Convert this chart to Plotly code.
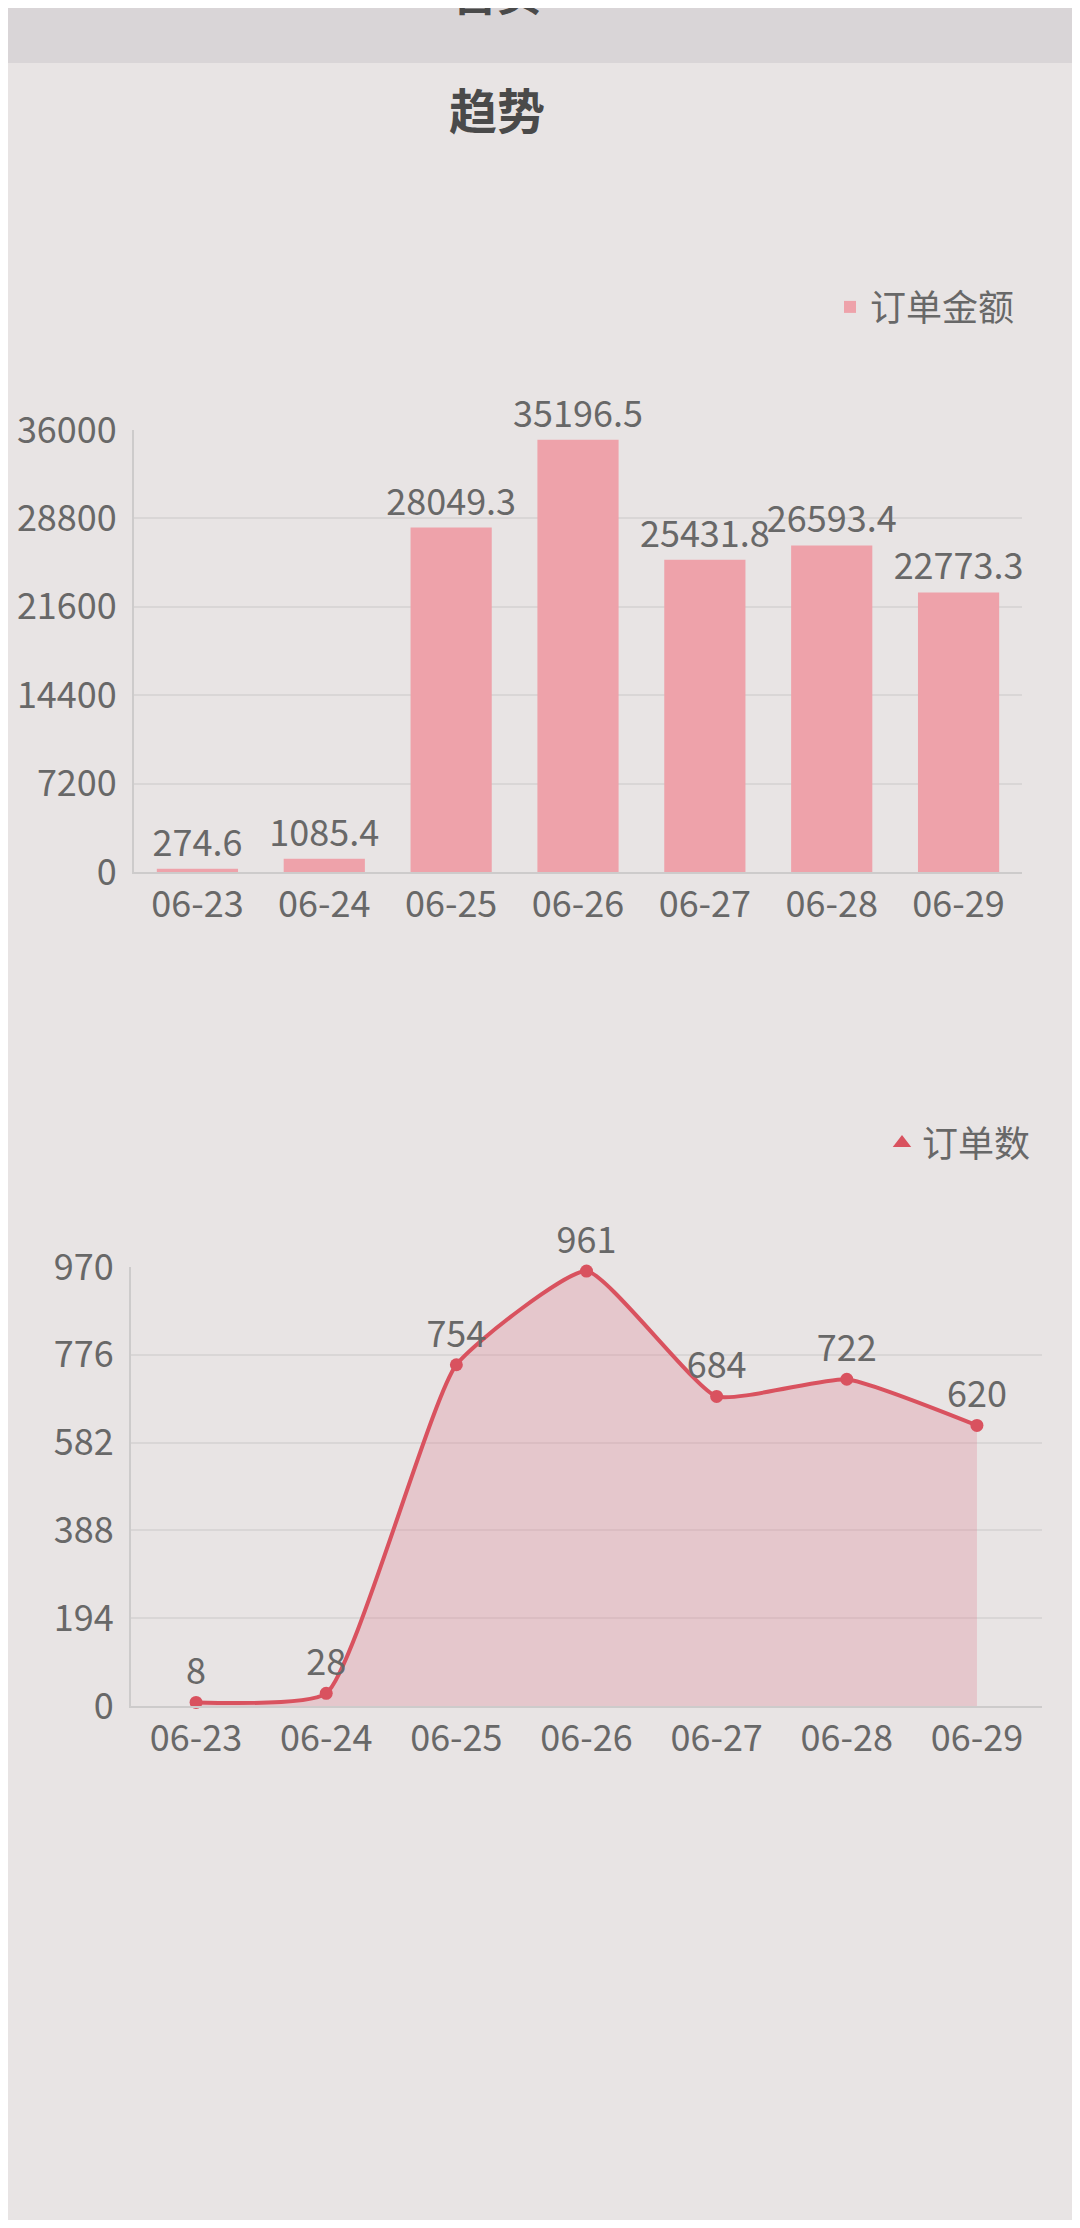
import plotly.graph_objects as go

# ---- data ----
dates = ["06-23", "06-24", "06-25", "06-26", "06-27", "06-28", "06-29"]
amounts = [274.6, 1085.4, 28049.3, 35196.5, 25431.8, 26593.4, 22773.3]
orders = [8, 28, 754, 961, 684, 722, 620]
amount_ticks = [0, 7200, 14400, 21600, 28800, 36000]
order_ticks = [0, 194, 388, 582, 776, 970]

# page body has an 8px margin, so the figure is sized to fit inside the window
OFF = 8
W, H = 1080 - 2 * OFF, 2228 - 2 * OFF
CJK = "Noto Sans CJK SC"
TXT = "#686868"
BAR = "#eea2aa"
LINE = "#d9525f"
NUMSIZE = 36


def px_x(p):
    return (p - OFF) / W


def px_y(p):
    return 1 - (p - OFF) / H


fig = go.Figure()

fig.add_trace(go.Bar(
    x=dates, y=amounts, name="订单金额",
    marker=dict(color=BAR, line=dict(width=0)),
    text=[str(v) for v in amounts], textposition="outside",
    constraintext="none",
    textfont=dict(size=NUMSIZE, color=TXT, family=CJK),
    cliponaxis=False, xaxis="x", yaxis="y", legend="legend",
))

fig.add_trace(go.Scatter(
    x=dates, y=orders, name="订单数", mode="lines+markers+text",
    line=dict(color=LINE, width=4, shape="spline", smoothing=0.45),
    marker=dict(color=LINE, size=13),
    fill="tozeroy", fillcolor="rgba(226,140,155,0.33)",
    text=[str(v) for v in orders], textposition="top center",
    textfont=dict(size=NUMSIZE, color=TXT, family=CJK),
    cliponaxis=False, xaxis="x2", yaxis="y2", showlegend=False,
))

# legend entry for the line chart (triangle symbol)
fig.add_trace(go.Scatter(
    x=[None], y=[None], name="订单数", mode="markers",
    marker=dict(color=LINE, symbol="triangle-up", size=16),
    xaxis="x2", yaxis="y2", legend="legend2", showlegend=True,
))

axis_common = dict(
    showline=True, linecolor="#cdcbcb", linewidth=2, ticks="",
    tickfont=dict(size=NUMSIZE, color=TXT, family=CJK), zeroline=False,
    automargin=False,
)

fig.update_layout(
    template="none",
    width=W, height=H, autosize=False,
    margin=dict(l=0, r=0, t=0, b=0, pad=0, autoexpand=False),
    paper_bgcolor="#e8e4e4", plot_bgcolor="rgba(0,0,0,0)",
    font=dict(family=CJK, color=TXT),
    bargap=0.36,
    xaxis=dict(domain=[px_x(134), px_x(1022)], anchor="y", type="category",
               range=[-0.5, len(dates) - 0.5], showgrid=False, **axis_common),
    yaxis=dict(domain=[px_y(872), px_y(430)], anchor="x", range=[0, 36000],
               tickvals=amount_ticks, ticktext=[str(t) for t in amount_ticks],
               showgrid=True, gridcolor="#d9d6d6",
               gridwidth=2, ticklabelstandoff=8, **axis_common),
    xaxis2=dict(domain=[px_x(131), px_x(1042)], anchor="y2", type="category",
                range=[-0.5, len(dates) - 0.5], showgrid=False, **axis_common),
    yaxis2=dict(domain=[px_y(1706), px_y(1267)], anchor="x2", range=[0, 970],
                tickvals=order_ticks, ticktext=[str(t) for t in order_ticks],
                showgrid=True, gridcolor="#d9d6d6",
                gridwidth=2, ticklabelstandoff=8, **axis_common),
    legend=dict(x=px_x(1020), y=px_y(307), xanchor="right", yanchor="middle",
                bgcolor="rgba(0,0,0,0)", font=dict(size=36, color=TXT, family=CJK)),
    legend2=dict(x=px_x(1036), y=px_y(1143), xanchor="right", yanchor="middle",
                 bgcolor="rgba(0,0,0,0)", font=dict(size=36, color=TXT, family=CJK)),
    shapes=[dict(type="rect", xref="paper", yref="paper", x0=0, x1=1,
                 y0=px_y(63), y1=1, fillcolor="#d9d5d7", line=dict(width=0),
                 layer="below")],
    annotations=[
        dict(text="<b>趋势</b>", x=px_x(497), y=px_y(108), xref="paper", yref="paper",
             showarrow=False, xanchor="center", yanchor="middle",
             font=dict(size=48, color="#4a4a4a", family=CJK)),
        dict(text="<b>首页</b>", x=px_x(497), y=px_y(26), xref="paper", yref="paper",
             showarrow=False, xanchor="center", yanchor="bottom",
             font=dict(size=44, color="#4a4a4a", family=CJK)),
    ],
)

fig.write_html("out.html")
